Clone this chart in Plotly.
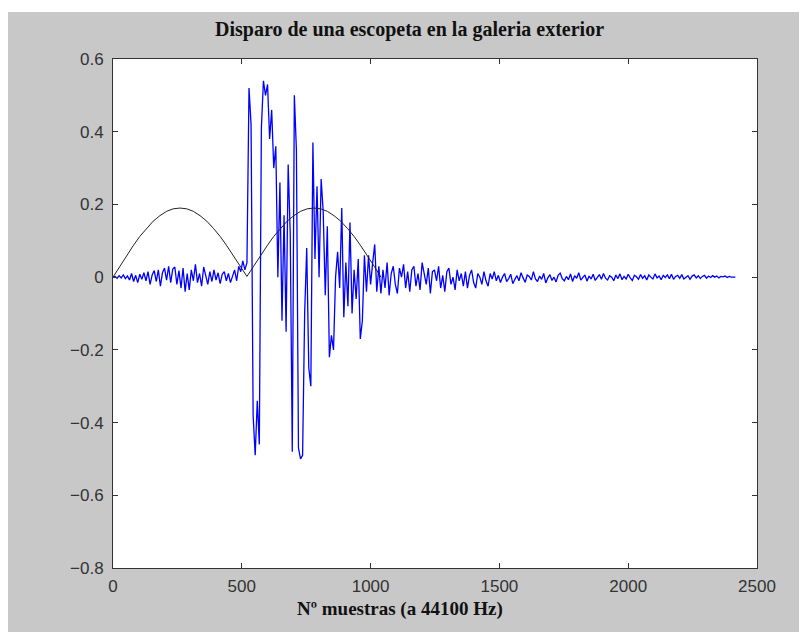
import numpy as np
import plotly.graph_objects as go

# ---- data ----
paso_muestras = 8  # spacing between plotted samples
senal_disparo = [
    # 0 - 512
    0, 0.002, -0.003, 0.004, -0.002, 0.006, -0.004, 0.003,
    -0.008, 0.01, -0.012, 0.005, -0.015, 0.008, -0.006, 0.012,
    -0.01, 0.015, -0.02, 0.006, 0.018, -0.012, 0.02, -0.025,
    0.012, 0.025, -0.008, 0.03, -0.015, 0.022, 0.028, -0.02,
    0.018, -0.03, 0.025, -0.04, 0.01, -0.035, 0.02, -0.01,
    0.035, -0.015, 0.01, -0.025, 0.028, 0.005, -0.02, 0.015,
    -0.012, 0.02, -0.008, 0.012, -0.018, 0.008, 0.015, -0.01,
    0.01, -0.015, 0.005, 0.02, -0.01, 0.03, 0.015, 0.045,
    0.02,
    # 520 - 1040
    0.04, 0.52, 0.42, -0.38, -0.49, -0.34, -0.46, 0.41,
    0.54, 0.50, 0.53, 0.38, 0.46, 0.30, 0.36, 0.0,
    0.26, -0.12, 0.17, -0.15, 0.31, 0.12, -0.48, 0.50,
    0.35, -0.47, -0.50, -0.49, -0.10, 0.08, -0.25, -0.30,
    0.37, 0.05, 0.25, -0.0, 0.27, 0.18, -0.05, 0.14,
    -0.22, -0.16, -0.20, 0.0, 0.07, -0.03, 0.19, -0.11,
    0.04, -0.08, 0.15, -0.10, 0.02, -0.06, 0.05, -0.17,
    -0.12, 0.06, -0.04, 0.06, -0.02, 0.04, 0.09, -0.04,
    0.03, -0.045,
    # 1048 - 1240
    0.02, -0.03, 0.04, -0.05, 0.01, 0.03, -0.02, -0.045, 0.025, 0.0,
    0.035, -0.03, 0.015, -0.04, 0.02, 0.03, -0.025, 0.01, -0.035, 0.04,
    0.005, -0.02, 0.025, -0.045, 0.015,
    # 1248 - 1480
    0.02, -0.01, 0.03, -0.03, 0.005, -0.04, 0.015, 0.025, -0.02, 0.0,
    -0.035, 0.02, -0.01, 0.01, -0.025, 0.015, -0.03, 0.005, 0.02, -0.015,
    -0.03, 0.01, 0.0, -0.02, 0.015, -0.01, -0.025, 0.01, -0.005, 0.015,
    # 1488 - 2416
    -0.01, 0.005, -0.015, 0.0, 0.01, -0.012, -0.004, 0.008, -0.018, -0.006,
    0.004, -0.01, 0.012, -0.002, -0.014, 0.006, 0.002, -0.008, 0.015, -0.005,
    -0.012, 0.003, -0.006, 0.01, -0.016, -0.002, 0.007, -0.009, 0.0, -0.013,
    0.005, 0.011, -0.004, -0.01, 0.002, -0.007, 0.009, -0.012, 0.004, -0.003,
    0.012, -0.008, -0.002, 0.006, -0.011, 0.003, -0.005, 0.008, -0.009, 0.001,
    0.007, -0.006, 0.01, -0.003, -0.008, 0.004, 0.0, -0.01, 0.006, -0.004,
    0.009, -0.007, 0.002, -0.005, 0.008, -0.002, -0.009, 0.005, 0.001, -0.006,
    0.007, -0.003, 0.004, -0.008, 0.006, 0.0, -0.005, 0.009, -0.002, 0.003,
    -0.007, 0.005, -0.001, 0.006, -0.004, 0.008, -0.006, 0.002, 0.005, -0.003,
    0.007, -0.005, 0.001, 0.004, -0.006, 0.003, 0.006, -0.002, 0.004, -0.004,
    0.002, 0.005, -0.003, 0.003, -0.001, 0.004, 0.0, 0.003, -0.002, 0.002,
    0.001, 0.003, -0.001, 0.002, 0.0, 0.001, 0.0,
]

paso_ventana = 26
ventana = [
    0, 0.030, 0.059, 0.086, 0.112, 0.134, 0.154, 0.169, 0.181, 0.188, 0.190,
    0.188, 0.181, 0.169, 0.154, 0.134, 0.112, 0.086, 0.059, 0.030, 0.002,
    0.030, 0.059, 0.086, 0.112, 0.134, 0.154, 0.169, 0.181, 0.188, 0.190,
    0.188, 0.181, 0.169, 0.154, 0.134, 0.112, 0.086, 0.059, 0.030, 0.0,
]

x_ticks = [0, 500, 1000, 1500, 2000, 2500]
y_ticks = [-0.8, -0.6, -0.4, -0.2, 0, 0.2, 0.4, 0.6]
y_ticktext = ["\u22120.8", "\u22120.6", "\u22120.4", "\u22120.2", "0", "0.2", "0.4", "0.6"]

titulo = "Disparo de una escopeta en la galeria exterior"
etiqueta_x = "N\u00ba muestras (a 44100 Hz)"

# ---- figure ----
x_senal = np.arange(len(senal_disparo)) * paso_muestras
x_ventana = np.arange(len(ventana)) * paso_ventana

fig = go.Figure()
fig.add_trace(go.Scatter(x=x_senal, y=senal_disparo, mode="lines",
                         line=dict(color="#0000ff", width=1.3), hoverinfo="skip"))
fig.add_trace(go.Scatter(x=x_ventana, y=ventana, mode="lines",
                         line=dict(color="#222222", width=1), hoverinfo="skip"))

axis_common = dict(showgrid=False, zeroline=False, ticks="inside", ticklen=5,
                   tickcolor="#333333", showline=True, linecolor="#333333",
                   linewidth=1, mirror="ticks",
                   tickfont=dict(family="Liberation Sans, Arial, sans-serif",
                                 size=17, color="#333333"))

fig.update_layout(
    width=799, height=624,
    margin=dict(l=105, r=50, t=51, b=64),
    paper_bgcolor="#c8c8c8",
    plot_bgcolor="#ffffff",
    showlegend=False,
    xaxis=dict(range=[0, 2500], tickvals=x_ticks, ticklabelstandoff=3, **axis_common),
    yaxis=dict(range=[-0.8, 0.6], tickvals=y_ticks, ticktext=y_ticktext,
               ticklabelstandoff=5, **axis_common),
    shapes=[
        dict(type="rect", xref="paper", yref="paper", x0=-0.5, x1=1.5, y0=1.0923, y1=1.3,
             fillcolor="#ffffff", line=dict(width=0), layer="below"),
    ],
    annotations=[
        dict(text="<b>" + titulo + "</b>", xref="paper", yref="paper",
             x=0.461, y=1.057, xanchor="center", yanchor="middle", showarrow=False,
             font=dict(family="Liberation Serif, serif", size=20, color="#111111")),
        dict(text="<b>" + etiqueta_x + "</b>", xref="paper", yref="paper",
             x=0.4457, y=-0.081, xanchor="center", yanchor="middle", showarrow=False,
             font=dict(family="Liberation Serif, serif", size=19, color="#111111")),
    ],
)

fig.write_html("out.html")
